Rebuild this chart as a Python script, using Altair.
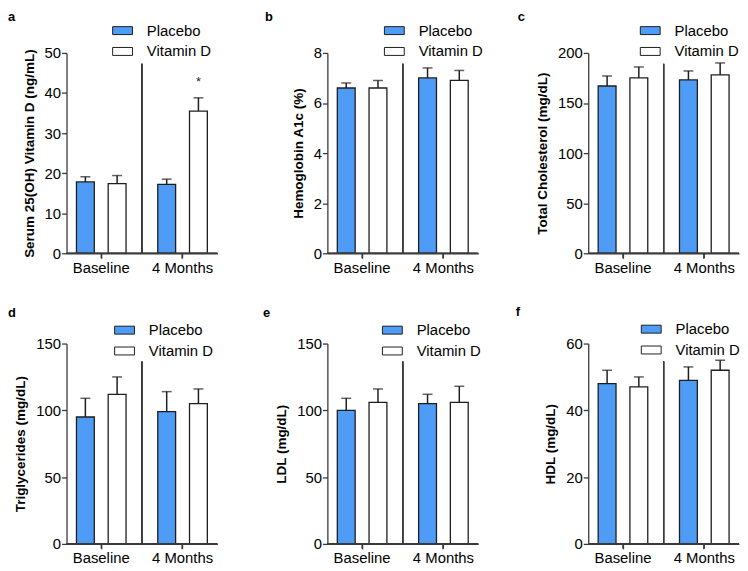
import altair as alt
import pandas as pd

groups = ["Placebo", "Vitamin D"]
times = ["Baseline", "4 Months"]
letters = ["a", "b", "c", "d", "e", "f"]
y_titles = [
    "Serum 25(OH) Vitamin D (ng/mL)",
    "Hemoglobin A1c (%)",
    "Total  Cholesterol (mg/dL)",
    "Triglycerides (mg/dL)",
    "LDL (mg/dL)",
    "HDL (mg/dL)",
]
y_max = [50, 8, 200, 150, 150, 60]
y_step = [10, 2, 50, 50, 50, 20]

# order: Placebo-Baseline, Vitamin D-Baseline, Placebo-4 Months, Vitamin D-4 Months
mean_a = [17.8, 17.4, 17.2, 35.5]
upper_a = [19.1, 19.4, 18.5, 38.8]
mean_b = [6.6, 6.6, 7.0, 6.9]
upper_b = [6.8, 6.9, 7.4, 7.3]
mean_c = [167, 175, 173, 178]
upper_c = [177, 186, 182, 190]
mean_d = [95, 112, 99, 105]
upper_d = [109, 125, 114, 116]
mean_e = [100, 106, 105, 106]
upper_e = [109, 116, 112, 118]
mean_f = [48, 47, 49, 52]
upper_f = [52, 50, 53, 55]
sig_a = ["", "", "", "*"]
sig_none = ["", "", "", ""]

means = [mean_a, mean_b, mean_c, mean_d, mean_e, mean_f]
uppers = [upper_a, upper_b, upper_c, upper_d, upper_e, upper_f]
sigs = [sig_a, sig_none, sig_none, sig_none, sig_none, sig_none]

# layout / style parameters
BLUE = "#4E9CF5"
INK = "#1e1e1e"
AXIS = "#3a3a3a"
W, H = 152, 202
legend_x = [46, 57, 52, 48, 55, 53]
legend_y = [-33, -33, -33, -24, -24, -25]
letter_dx = [-59, -63, -71, -59, -65, -73]
letter_off = [-3.5, -3.5, -3.5, 0, 0, 0]
divider_top = [11, 11, 11, 18, 18, 18]

PI, PO = 0.2, 0.027
SPI, SPO = 0.4375, 0.24375
STEP = W / (2 - PI + 2 * PO)
DIV_X = STEP * (PO + 1 - PI / 2)   # midpoint of the gap between the two bands


def panel(i):
    df = pd.DataFrame({
        "time": [times[0], times[0], times[1], times[1]],
        "group": groups * 2,
        "mean": means[i],
        "upper": uppers[i],
        "sig": sigs[i],
    })
    tdf = pd.DataFrame({"time": times})
    xs = alt.Scale(paddingInner=PI, paddingOuter=PO)
    x = alt.X("time:N", sort=times, scale=xs, title=None,
              axis=alt.Axis(labelAngle=0, domain=True, ticks=True,
                            domainColor=AXIS, tickColor=AXIS,
                            domainWidth=1.3, tickWidth=1.3, tickSize=5))
    xo = alt.XOffset("group:N", sort=groups,
                     scale=alt.Scale(paddingInner=SPI, paddingOuter=SPO))
    ticks = list(range(0, y_max[i] + 1, y_step[i]))
    ysc = alt.Scale(domain=[0, y_max[i]], nice=False, zero=True)
    yax = alt.Axis(values=ticks)

    def Y(field):
        return alt.Y(field, scale=ysc, title=y_titles[i], axis=yax)

    base = alt.Chart(df)
    bars = base.mark_bar(stroke=INK, strokeWidth=1.3).encode(
        x=x, xOffset=xo, y=Y("mean:Q"),
        fill=alt.Fill("group:N", sort=groups,
                      scale=alt.Scale(domain=groups, range=[BLUE, "white"]),
                      title=None,
                      legend=alt.Legend(orient="none", legendX=legend_x[i],
                                        legendY=legend_y[i])),
    )
    err = base.mark_rule(color=INK, strokeWidth=1.5).encode(
        x=x, xOffset=xo, y=Y("mean:Q"), y2="upper:Q")
    cap = base.mark_tick(color=INK, thickness=1.5, size=10).encode(
        x=x, xOffset=xo, y=Y("upper:Q"))
    div = base.mark_rule(color=AXIS, strokeWidth=1.3).encode(
        x=alt.value(DIV_X), y=alt.value(divider_top[i]), y2=alt.value(H))
    # x-axis baseline and tick marks
    baseline = base.mark_rule(color=AXIS, strokeWidth=1.3).encode(
        x=alt.value(0), x2=alt.value(W), y=alt.value(H))
    xticks = alt.Chart(tdf).mark_rule(color=AXIS, strokeWidth=1.3).encode(
        x=x, y=alt.value(H), y2=alt.value(H + 5))
    layers = [bars, err, cap, div, baseline, xticks]
    if any(s for s in sigs[i]):
        star = base.mark_text(fontSize=13, dy=-12, baseline="alphabetic",
                              color=INK).encode(
            x=x, xOffset=xo, y=Y("upper:Q"), text="sig:N")
        layers.append(star)
    return alt.layer(*layers).properties(
        width=W, height=H,
        title=alt.TitleParams(letters[i], anchor="start", frame="group",
                              dx=letter_dx[i], offset=letter_off[i],
                              fontSize=13, fontWeight="bold", color="black"),
    )


chart = alt.concat(
    *[panel(i) for i in range(6)], columns=3,
    spacing={"row": 91, "column": 111}, bounds="flush",
).resolve_scale(
    x="independent", y="independent", fill="independent"
).resolve_legend(
    fill="independent"
).properties(
    padding=0
).configure_view(
    strokeWidth=0
).configure_axis(
    grid=False, domainColor=AXIS, tickColor=AXIS, domainWidth=1.3,
    tickWidth=1.3, tickSize=5, labelFont="Liberation Sans", labelFontSize=15,
    labelColor="black", titleFont="Liberation Sans", titleFontSize=13.6,
    titleFontWeight="bold", titleColor="black",
).configure_axisX(
    labelPadding=2
).configure_axisY(
    labelPadding=1, titlePadding=8
).configure_legend(
    padding=0, rowPadding=2, labelOffset=14, labelFontSize=15,
    labelFont="Liberation Sans", labelColor="black",
    symbolType="M-1,-0.4H1V0.4H-1Z", symbolSize=400,
    symbolStrokeColor=INK, symbolStrokeWidth=1, symbolOpacity=1,
).configure_title(
    font="Liberation Sans"
)

chart.save("out.html", embed_options={"renderer": "svg", "actions": False})
